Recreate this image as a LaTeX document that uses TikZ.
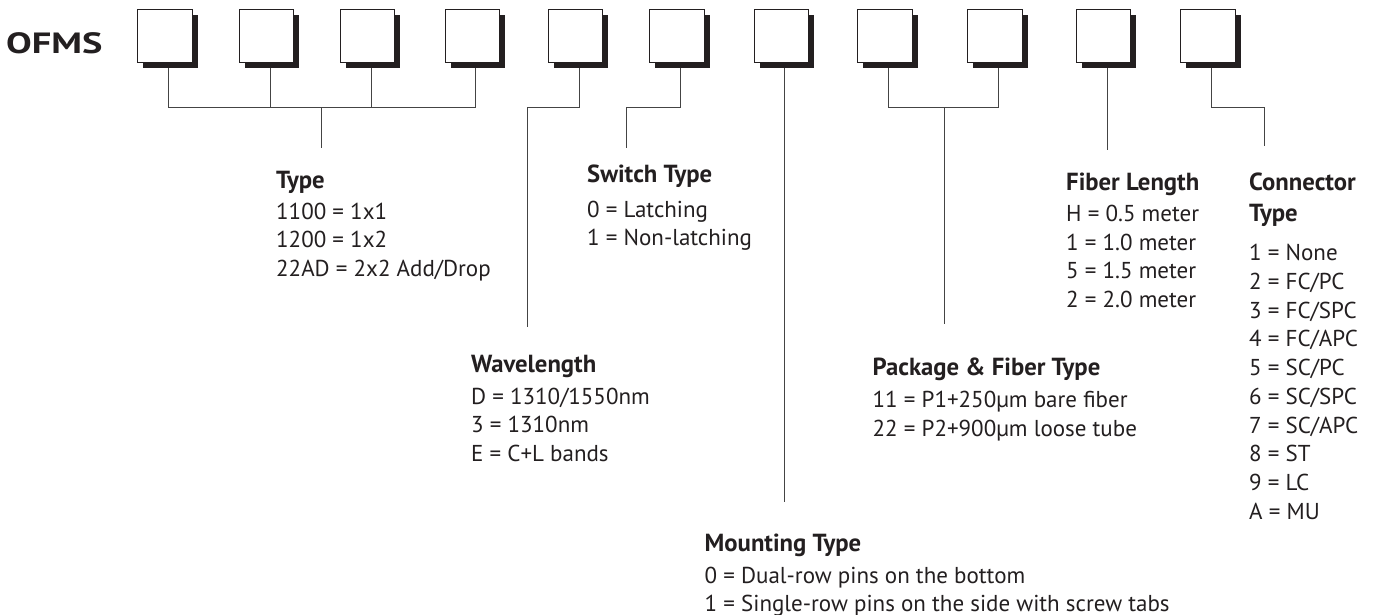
\documentclass[tikz,border=0pt]{standalone}
\usepackage{graphicx}
\usepackage{fontspec}
\setmainfont{PT Sans}
\usetikzlibrary{shadows,calc}
\definecolor{ink}{HTML}{231F20}
\definecolor{wirecol}{HTML}{444444}
\begin{document}
\begin{tikzpicture}[x=1pt,y=-1pt,
  digitbox/.style={draw=ink, line width=1pt, fill=white, minimum width=54.5pt, minimum height=53.5pt,
    inner sep=0pt, outer sep=0pt, anchor=north west,
    drop shadow={shadow xshift=5.5pt, shadow yshift=-5.5pt, opacity=1, fill=ink}},
  wire/.style={draw=wirecol, line width=1pt},
  item/.style={anchor=base west, inner sep=0pt, text=ink, font=\fontsize{23}{28}\selectfont},
  head/.style={anchor=base west, inner sep=0pt, text=ink, font=\bfseries\fontsize{24.7}{28}\selectfont},
  brand/.style={anchor=base west, inner sep=0pt, text=ink, font=\bfseries\fontsize{29.3}{32}\selectfont},
]
\useasboundingbox (0,0) rectangle (1385,615);
\fill[white] (0,0) rectangle (1385,615);

% code boxes
\foreach \i/\x in {1/137.7, 2/239.3, 3/340.4, 4/445, 5/548.3, 6/649.8, 7/754, 8/857.7, 9/967.8, 10/1076.3, 11/1180.5}{
  \node[digitbox] (b\i) at (\x,9.5) {};
  \coordinate (s\i) at ($(b\i.south)+(3.5,5.5)$);
}

\node[brand] (ofms) at (6,53.5) {\scalebox{1.31}[1]{OFMS}};

% junctions and ends
\coordinate (typeJ) at (321,108);   \coordinate (typeEnd) at (321,148);
\coordinate (wlJ) at (527.5,108);   \coordinate (wlEnd) at (527.5,327);
\coordinate (swJ) at (626.5,108);   \coordinate (swEnd) at (626.5,148);
\coordinate (mtEnd) at (784,502);
\coordinate (pkJ) at (944,107.5);   \coordinate (pkEnd) at (944,324);
\coordinate (flEnd) at (1107,150);
\coordinate (ctJ) at (1264,107.5);  \coordinate (ctEnd) at (1264,146);

% connectors
\draw[wire] (s1) |- (s4 |- typeJ) -- (s4);
\draw[wire] (s2) -- (s2 |- typeJ);
\draw[wire] (s3) -- (s3 |- typeJ);
\draw[wire] (typeJ) -- (typeEnd);
\draw[wire] (s5) |- (wlJ) -- (wlEnd);
\draw[wire] (s6) |- (swJ) -- (swEnd);
\draw[wire] (s7) -- (s7 |- mtEnd);
\draw[wire] (s8) |- (s9 |- pkJ) -- (s9);
\draw[wire] (pkJ) -- (pkEnd);
\draw[wire] (s10) -- (s10 |- flEnd);
\draw[wire] (s11) |- (ctJ) -- (ctEnd);

% Type
\node[head] (type-h) at (276,188.7) {Type};
\foreach \t [count=\k] in {1100 = 1x1, 1200 = 1x2, 22AD = 2x2 Add/Drop}
  \node[item] (type-\k) at (276,{219.3+(\k-1)*28.6}) {\t};

% Switch Type
\node[head] (sw-h) at (587,182.5) {Switch Type};
\foreach \t [count=\k] in {0 = Latching, 1 = Non-latching}
  \node[item] (sw-\k) at (587,{217+(\k-1)*28.6}) {\t};

% Wavelength
\node[head] (wl-h) at (471,372) {Wavelength};
\foreach \t [count=\k] in {D = 1310/1550nm, 3 = 1310nm, E = C+L bands}
  \node[item] (wl-\k) at (471,{404+(\k-1)*28.7}) {\t};

% Mounting Type
\node[head] (mt-h) at (704.5,551) {Mounting Type};
\foreach \t [count=\k] in {0 = Dual-row pins on the bottom, 1 = Single-row pins on the side with screw tabs}
  \node[item] (mt-\k) at (704.5,{583.3+(\k-1)*28}) {\t};

% Package & Fiber Type
\node[head] (pk-h) at (872.5,375.4) {Package \& Fiber Type};
\foreach \t [count=\k] in {11 = P1+250µm bare fiber, 22 = P2+900µm loose tube}
  \node[item] (pk-\k) at (872.5,{407.3+(\k-1)*29}) {\t};

% Fiber Length
\node[head] (fl-h) at (1066,190.2) {Fiber Length};
\foreach \t [count=\k] in {H = 0.5 meter, 1 = 1.0 meter, 5 = 1.5 meter, 2 = 2.0 meter}
  \node[item] (fl-\k) at (1066,{221.5+(\k-1)*28.7}) {\t};

% Connector Type
\node[head] (ct-h1) at (1249,190.2) {Connector};
\node[head] (ct-h2) at (1249,221.5) {Type};
\foreach \t [count=\k] in {1 = None, 2 = FC/PC, 3 = FC/SPC, 4 = FC/APC, 5 = SC/PC, 6 = SC/SPC, 7 = SC/APC, 8 = ST, 9 = LC, A = MU}
  \node[item] (ct-\k) at (1249,{260.5+(\k-1)*28.75}) {\t};
\end{tikzpicture}
\end{document}
